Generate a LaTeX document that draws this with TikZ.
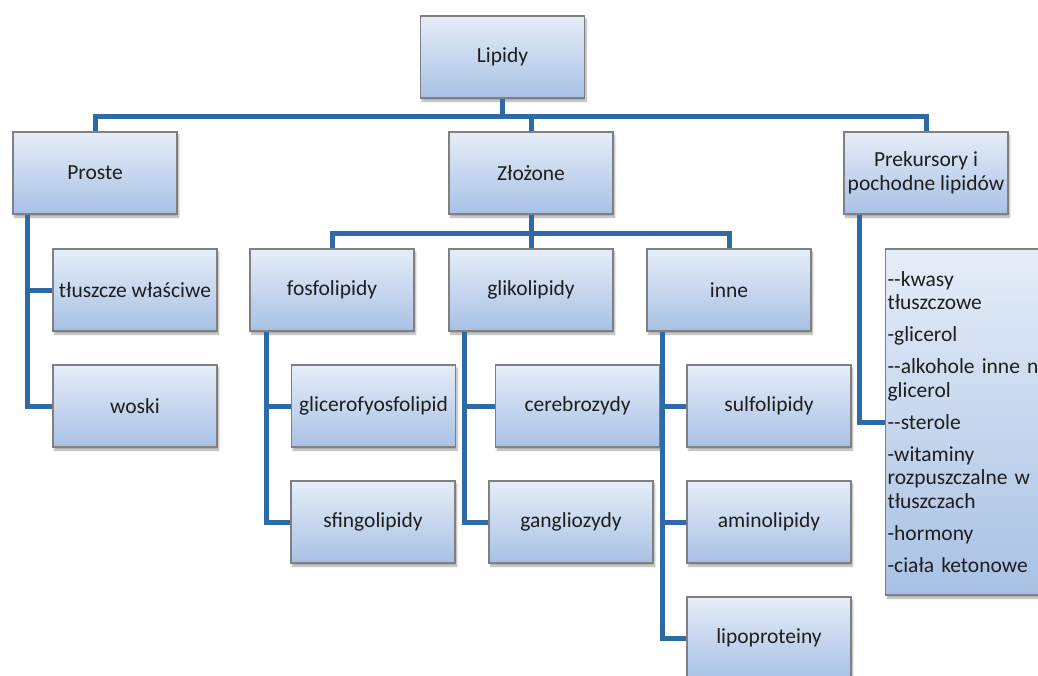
\documentclass[tikz,border=0pt]{standalone}
\usepackage{fontspec}
\setmainfont{Carlito}[Ligatures=TeXOff]
\usetikzlibrary{shadows.blur}

\definecolor{boxtop}{RGB}{229,237,248}
\definecolor{boxbot}{RGB}{168,193,228}
\definecolor{boxedge}{RGB}{128,128,128}
\definecolor{link}{RGB}{46,106,166}
\definecolor{ink}{RGB}{30,30,30}

\begin{document}
\begin{tikzpicture}[x=1pt,y=-1pt,
  box/.style={draw=boxedge, line width=1.2pt, top color=boxtop, bottom color=boxbot,
    minimum width=164pt, minimum height=82pt, inner sep=2pt,
    font=\fontsize{21.5}{23.5}\selectfont, text=ink, align=center,
    blur shadow={shadow xshift=1.5pt, shadow yshift=-3pt, shadow blur steps=6, shadow opacity=35}},
  conn/.style={draw=link, line width=5pt}]

\useasboundingbox (0,0) rectangle (1038,675);
\clip (0,0) rectangle (1038,675);

% top level
\node[box] (lipidy) at (502.5,57) {Lipidy};

% second level
\node[box] (proste)  at (95,173)  {Proste};
\node[box] (zlozone) at (531,173) {Złożone};
\node[box] (prek)    at (926,173) {Prekursory i\\pochodne lipidów};

% simple lipids
\node[box] (tluszcze) at (135,290) {tłuszcze właściwe};
\node[box] (woski)    at (135,406) {woski};

% complex lipids
\node[box] (fosfo) at (332,290) {fosfolipidy};
\node[box] (gliko) at (531,290) {glikolipidy};
\node[box] (inne)  at (729,290) {inne};

\node[box] (glicero) at (373.5,406) {glicerofyosfolipid};
\node[box] (sfingo)  at (373,522)   {sfingolipidy};
\node[box] (cerebro) at (577.5,406) {cerebrozydy};
\node[box] (ganglio) at (571,522)   {gangliozydy};
\node[box] (sulfo)   at (769,406)   {sulfolipidy};
\node[box] (amino)   at (769,522)   {aminolipidy};
\node[box] (lipo)    at (769,638)   {lipoproteiny};

% precursors and derivatives
\node[box, minimum height=346pt, text width=160pt, align=left, anchor=west, inner xsep=1pt]
  (lista) at (885,422)
  {--kwasy\\tłuszczowe\\[8.5pt]-glicerol\\[8.5pt]\mbox{--alkohole inne niż}\\glicerol\\[8.5pt]--sterole\\[8.5pt]-witaminy\\rozpuszczalne w\\tłuszczach\\[8.5pt]-hormony\\[8.5pt]-ciała ketonowe};

% upper bus
\draw[conn] (lipidy.south) -- ++(0,18) coordinate (bus1);
\draw[conn] (proste.north) |- (bus1) -| (prek.north);
\draw[conn] (zlozone.north) -- (zlozone.north |- bus1);

% middle bus
\draw[conn] (zlozone.south) -- ++(0,19) coordinate (bus2);
\draw[conn] (fosfo.north) |- (bus2) -| (inne.north);
\draw[conn] (gliko.north) -- (gliko.north |- bus2);

% side spines
\coordinate (proste-v) at ([xshift=15pt]proste.south west);
\coordinate (fosfo-v)  at ([xshift=17pt]fosfo.south west);
\coordinate (gliko-v)  at ([xshift=16pt]gliko.south west);
\coordinate (inne-v)   at ([xshift=16pt]inne.south west);
\coordinate (prek-v)   at ([xshift=16pt]prek.south west);

\draw[conn] (proste-v) |- (woski.west);
\draw[conn] (tluszcze.west) -- (tluszcze.west -| proste-v);

\draw[conn] (fosfo-v) |- (sfingo.west);
\draw[conn] (glicero.west) -- (glicero.west -| fosfo-v);

\draw[conn] (gliko-v) |- (ganglio.west);
\draw[conn] (cerebro.west) -- (cerebro.west -| gliko-v);

\draw[conn] (inne-v) |- (lipo.west);
\draw[conn] (sulfo.west) -- (sulfo.west -| inne-v);
\draw[conn] (amino.west) -- (amino.west -| inne-v);

\draw[conn] (prek-v) |- (lista.west);
\end{tikzpicture}
\end{document}
